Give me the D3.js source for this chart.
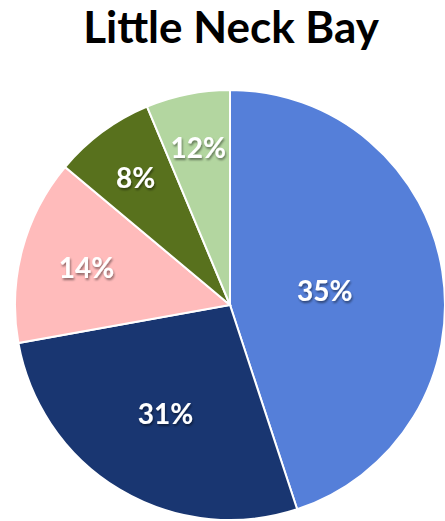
<!DOCTYPE html>
<html>
<head>
<meta charset="utf-8">
<script src="https://cdn.jsdelivr.net/npm/d3@7"></script>
<style>
  body { margin: 0; background: white; }
  svg { display: block; }
</style>
</head>
<body>
<script>
// slice sizes (angles), labels as printed on the chart
const categories = ["A", "B", "C", "D", "E"];
const values = [44.9, 27.2, 13.9, 7.6, 6.3];
const labels = ["35%", "31%", "14%", "8%", "12%"];
const colors = ["#557fd9", "#193671", "#ffbbbb", "#58711d", "#b3d6a0"];

const width = 445, height = 521;
const cx = 230, cy = 305, radius = 215;

const svg = d3.select("body").append("svg")
    .attr("width", width)
    .attr("height", height);

const defs = svg.append("defs");
const shadow = defs.append("filter").attr("id", "shadow")
    .attr("x", "-20%").attr("y", "-20%").attr("width", "140%").attr("height", "140%");
shadow.append("feDropShadow")
    .attr("dx", 1).attr("dy", 2).attr("stdDeviation", 1.2)
    .attr("flood-color", "#000").attr("flood-opacity", 0.45);

// titre
svg.append("text")
    .attr("x", 231)
    .attr("y", 43)
    .attr("text-anchor", "middle")
    .style("font-family", "Lato, 'Open Sans', sans-serif")
    .style("font-weight", "bold")
    .style("font-size", "44px")
    .text("Little Neck Bay");

const pie = d3.pie().sort(null).value(d => d)(values);
const arc = d3.arc().innerRadius(0).outerRadius(radius);

const g = svg.append("g").attr("transform", "translate(" + cx + "," + cy + ")");

g.selectAll("path")
    .data(pie)
    .enter()
    .append("path")
    .attr("d", arc)
    .attr("fill", (d, i) => colors[i])
    .attr("stroke", "white")
    .attr("stroke-width", 2);

// labels: smaller slices get pushed further out (like Excel)
g.selectAll("text.lbl")
    .data(pie)
    .enter()
    .append("text")
    .attr("class", "lbl")
    .attr("transform", d => {
        const a = (d.startAngle + d.endAngle) / 2;
        const span = (d.endAngle - d.startAngle) * 180 / Math.PI;
        const r = 172 - 0.47 * span;
        return "translate(" + (Math.sin(a) * r) + "," + (-Math.cos(a) * r) + ")";
    })
    .attr("text-anchor", "middle")
    .attr("dy", "0.4em")
    .attr("fill", "white")
    .attr("filter", "url(#shadow)")
    .style("font-family", "Lato, 'Open Sans', sans-serif")
    .style("font-weight", "bold")
    .style("font-size", "28px")
    .text((d, i) => labels[i]);
</script>
</body>
</html>
